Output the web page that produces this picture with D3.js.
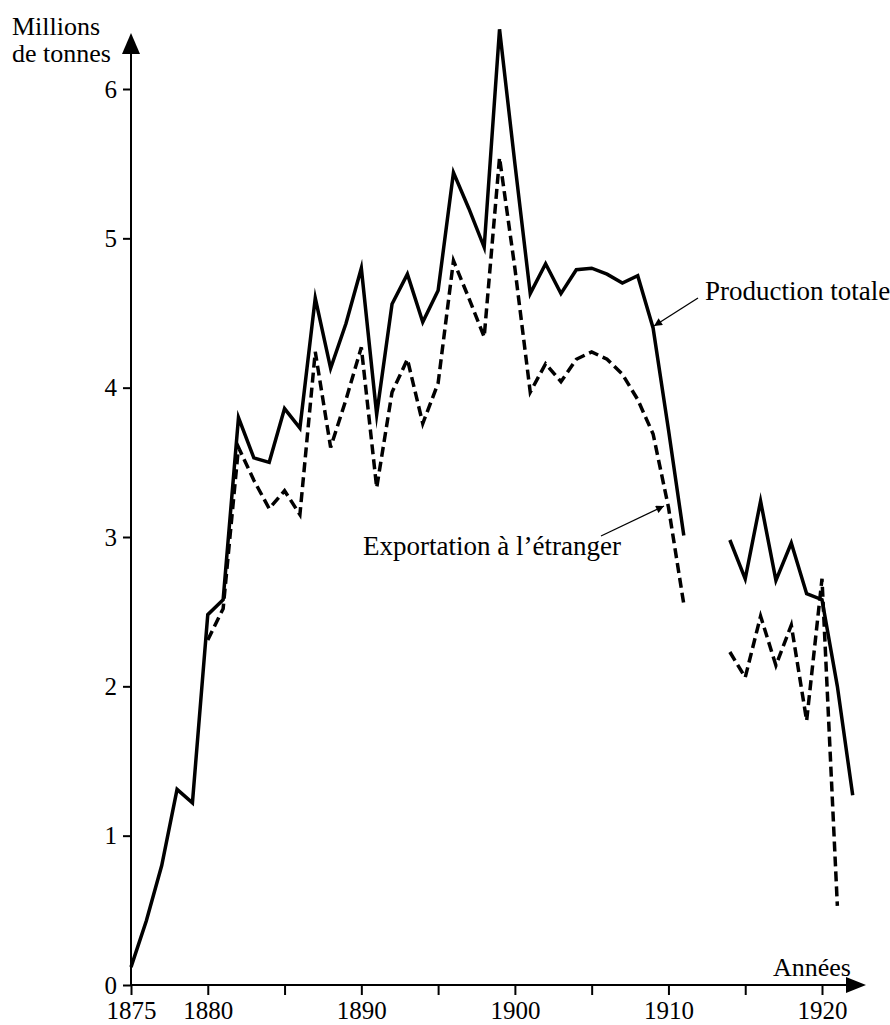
<!DOCTYPE html>
<html>
<head>
<meta charset="utf-8">
<script src="https://cdn.jsdelivr.net/npm/d3@7"></script>
<style>
  body { margin: 0; background: #fff; }
  text { font-family: "Liberation Serif", "Times New Roman", serif; fill: #000; }
</style>
</head>
<body>
<div id="chart"></div>
<script>
// years on the x axis
const years = [1875, 1876, 1877, 1878, 1879, 1880, 1881, 1882, 1883, 1884,
    1885, 1886, 1887, 1888, 1889, 1890, 1891, 1892, 1893, 1894,
    1895, 1896, 1897, 1898, 1899, 1900, 1901, 1902, 1903, 1904,
    1905, 1906, 1907, 1908, 1909, 1910, 1911, 1912, 1913, 1914,
    1915, 1916, 1917, 1918, 1919, 1920, 1921, 1922];

// Production totale (millions de tonnes), null = no data
const production = [0.12, 0.43, 0.80, 1.31, 1.22, 2.48, 2.58, 3.80, 3.53, 3.50,
    3.86, 3.73, 4.60, 4.13, 4.43, 4.80, 3.82, 4.56, 4.76, 4.44,
    4.65, 5.44, 5.20, 4.94, 6.40, 5.50, 4.63, 4.83, 4.63, 4.79,
    4.80, 4.76, 4.70, 4.75, 4.40, 3.72, 3.01, null, null, 2.98,
    2.72, 3.24, 2.71, 2.96, 2.62, 2.58, 2.00, 1.27];

// Exportation à l'étranger
const exportation = [null, null, null, null, null, 2.31, 2.52, 3.60, 3.38, 3.19,
    3.31, 3.15, 4.24, 3.60, 3.92, 4.27, 3.33, 3.97, 4.19, 3.76,
    4.03, 4.85, 4.60, 4.34, 5.54, 4.80, 3.97, 4.16, 4.04, 4.19,
    4.24, 4.19, 4.09, 3.92, 3.69, 3.20, 2.55, null, null, 2.23,
    2.06, 2.47, 2.14, 2.41, 1.77, 2.72, 0.53, null];

const xTicks = [1875, 1880, 1885, 1890, 1895, 1900, 1905, 1910, 1915, 1920];
const xLabels = [1875, 1880, 1890, 1900, 1910, 1920];
const yTicks = [0, 1, 2, 3, 4, 5, 6];

const width = 890, height = 1025;
const svg = d3.select("#chart").append("svg")
    .attr("width", width)
    .attr("height", height);

const x = d3.scaleLinear().domain([1875, 1920]).range([131, 822]);
const y = d3.scaleLinear().domain([0, 6]).range([985, 89]);

// axes
const xAxis = svg.append("g")
    .attr("transform", "translate(0," + y(0) + ")")
    .call(d3.axisBottom(x)
        .tickValues(xTicks)
        .tickSize(10)
        .tickPadding(6)
        .tickFormat(d => xLabels.includes(d) ? d : ""));

const yAxis = svg.append("g")
    .attr("transform", "translate(" + x(1875) + ",0)")
    .call(d3.axisLeft(y)
        .tickValues(yTicks)
        .tickSize(8)
        .tickPadding(6)
        .tickFormat(d3.format("d")));

[xAxis, yAxis].forEach(function(a) {
    a.select(".domain").remove();
    a.attr("font-family", null).attr("font-size", null);
    a.selectAll("line").attr("stroke", "#000").attr("stroke-width", 2);
    a.selectAll("text").style("font-size", "25px");
});

// axis lines with arrows
svg.append("line")
    .attr("x1", x(1875)).attr("x2", 848)
    .attr("y1", y(0)).attr("y2", y(0))
    .attr("stroke", "#000").attr("stroke-width", 2);
svg.append("path")
    .attr("d", "M866," + y(0) + "L846," + (y(0) - 8) + "L846," + (y(0) + 8) + "Z")
    .attr("fill", "#000");

svg.append("line")
    .attr("x1", x(1875)).attr("x2", x(1875))
    .attr("y1", y(0) + 1).attr("y2", 52)
    .attr("stroke", "#000").attr("stroke-width", 2);
svg.append("path")
    .attr("d", "M" + x(1875) + ",33L" + (x(1875) - 9) + ",54L" + (x(1875) + 9) + ",54Z")
    .attr("fill", "#000");

// axis titles
svg.append("text").attr("x", 12).attr("y", 35).style("font-size", "26px").text("Millions");
svg.append("text").attr("x", 12).attr("y", 62).style("font-size", "26px").text("de tonnes");
svg.append("text").attr("x", 851).attr("y", 976)
    .style("font-size", "26px").style("text-anchor", "end").text("Années");

// series lines
const prodData = years.map((yr, i) => ({year: yr, v: production[i]}));
const expData = years.map((yr, i) => ({year: yr, v: exportation[i]}));

const line = d3.line()
    .defined(d => d.v != null)
    .x(d => x(d.year))
    .y(d => y(d.v));

svg.append("path")
    .datum(expData)
    .attr("d", line)
    .attr("fill", "none")
    .attr("stroke", "#000")
    .attr("stroke-width", 3.5)
    .attr("stroke-dasharray", "10,5")
    .attr("stroke-linejoin", "miter");

svg.append("path")
    .datum(prodData)
    .attr("d", line)
    .attr("fill", "none")
    .attr("stroke", "#000")
    .attr("stroke-width", 3.5)
    .attr("stroke-linejoin", "miter")
    .attr("stroke-miterlimit", 10);

// annotations
svg.append("defs").append("marker")
    .attr("id", "arrow")
    .attr("viewBox", "0 0 10 10")
    .attr("refX", 10).attr("refY", 5)
    .attr("markerWidth", 10).attr("markerHeight", 8)
    .attr("markerUnits", "userSpaceOnUse")
    .attr("orient", "auto")
    .append("path")
    .attr("d", "M0,0L10,5L0,10Z")
    .attr("fill", "#000");

svg.append("text").attr("x", 705).attr("y", 300)
    .style("font-size", "27px").text("Production totale");
svg.append("line")
    .attr("x1", 698).attr("y1", 298)
    .attr("x2", 654).attr("y2", 326)
    .attr("stroke", "#000").attr("stroke-width", 1.3)
    .attr("marker-end", "url(#arrow)");

svg.append("text").attr("x", 621).attr("y", 555)
    .style("font-size", "27px").style("text-anchor", "end")
    .text("Exportation à l’étranger");
svg.append("line")
    .attr("x1", 601).attr("y1", 536)
    .attr("x2", 664).attr("y2", 506)
    .attr("stroke", "#000").attr("stroke-width", 1.3)
    .attr("marker-end", "url(#arrow)");
</script>
</body>
</html>
